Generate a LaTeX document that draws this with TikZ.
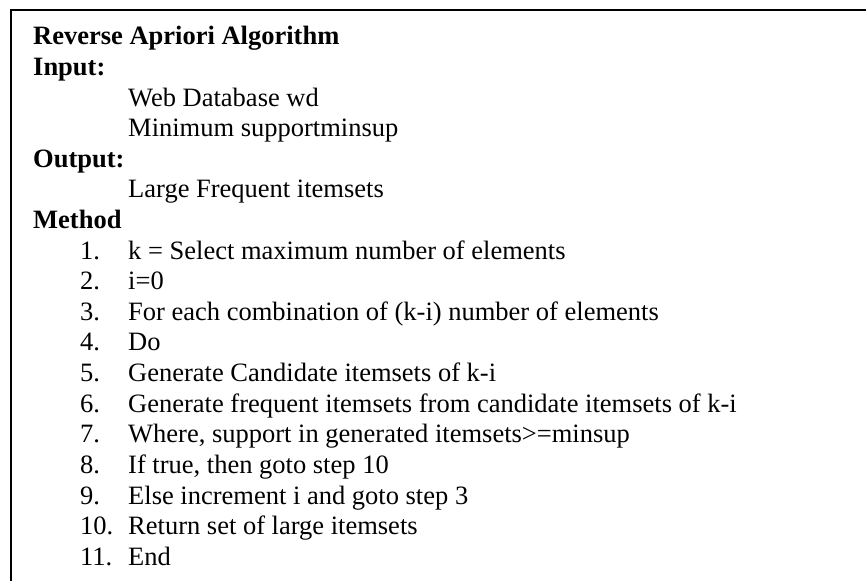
\documentclass[tikz,border=0pt]{standalone}
\usepackage{fontspec}
\setmainfont{Liberation Serif}
\begin{document}
\begin{tikzpicture}[
    x=1pt, y=1pt,
    txt/.style={
        anchor=base west,
        inner sep=0pt,
        font=\fontsize{26.5}{30}\selectfont
    },
    head/.style={txt, font=\fontsize{26.5}{30}\selectfont\bfseries},
    frame/.style={line width=2pt}
]
    \useasboundingbox (0,0) rectangle (866,581);
    \draw[frame] (11,0) -- (11,571) -- (866,571);

    \node[head] (title) at (33,536) {Reverse Apriori Algorithm};
    \node[head] (input) at (33,505.4) {Input:};
    \node[txt] (wd) at (128,474.8) {Web Database wd};
    \node[txt] (minsup) at (128,444.2) {Minimum supportminsup};
    \node[head] (output) at (33,413.6) {Output:};
    \node[txt] (large) at (128,383) {Large Frequent itemsets};
    \node[head] (method) at (33,352.4) {Method};

    % numbered steps of the method
    \foreach \s [count=\n] in {
        {k = Select maximum number of elements},
        {i=0},
        {For each combination of (k-i) number of elements},
        {Do},
        {Generate Candidate itemsets of k-i},
        {Generate frequent itemsets from candidate itemsets of k-i},
        {Where, support in generated itemsets>=minsup},
        {If true, then goto step 10},
        {Else increment i and goto step 3},
        {Return set of large itemsets},
        {End}}
    {
        \node[txt] (num\n) at (80,{352.4-30.6*\n}) {\n.};
        \node[txt] (step\n) at (128,{352.4-30.6*\n}) {\s};
    }
\end{tikzpicture}
\end{document}
